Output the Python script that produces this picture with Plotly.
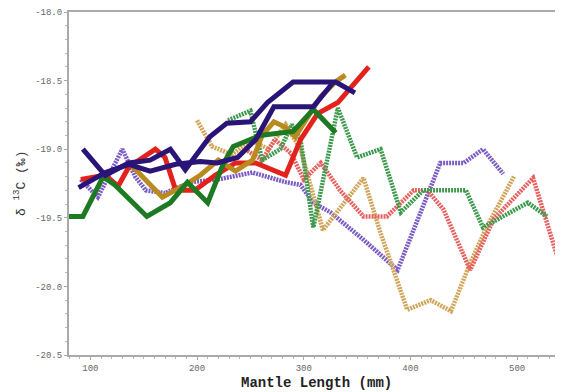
import plotly.graph_objects as go

# ---- data (mantle length mm, delta13C permil) ----
red_x = [91, 114, 126, 136, 161, 170, 180, 198, 217, 236, 255, 269, 283, 297, 313, 332, 361]
red_y = [-19.22, -19.19, -19.27, -19.13, -19.00, -19.06, -19.30, -19.30, -19.19, -19.10, -19.10, -19.15, -19.19, -18.93, -18.74, -18.66, -18.40]

gold_x = [137.5, 167.5, 189, 203, 220, 236, 252, 261, 272, 283, 292, 315.6, 329.7, 339]
gold_y = [-19.11, -19.35, -19.26, -19.19, -19.08, -19.16, -19.08, -18.90, -18.80, -18.84, -18.91, -18.62, -18.51, -18.46]

green_x = [80, 93, 112, 123, 153, 175, 191, 210, 225, 234, 259, 290, 309, 330]
green_y = [-19.49, -19.49, -19.20, -19.26, -19.49, -19.39, -19.24, -19.39, -19.10, -18.98, -18.90, -18.87, -18.71, -18.88]

purple1_x = [93, 114, 136, 156, 175, 189, 212, 228, 250, 266, 290, 330, 348]
purple1_y = [-19.00, -19.19, -19.10, -19.08, -19.00, -19.15, -18.91, -18.81, -18.80, -18.66, -18.51, -18.51, -18.59]

purple2_x = [89, 114, 136, 156, 180, 203, 219, 238, 255, 272, 309, 328]
purple2_y = [-19.28, -19.17, -19.11, -19.16, -19.11, -19.09, -19.10, -19.06, -18.93, -18.69, -18.69, -18.51]

greend_x = [229, 250, 261, 278, 289, 297, 309, 332, 350, 372, 391, 412, 452, 468, 510, 528]
greend_y = [-18.79, -18.72, -19.08, -19.00, -18.82, -18.93, -19.57, -18.70, -19.06, -19.00, -19.46, -19.30, -19.30, -19.57, -19.39, -19.49]

redd_x = [245, 261, 273, 288, 300, 316, 334, 356, 378, 403, 416, 431, 456, 478, 515, 538]
redd_y = [-19.00, -19.08, -18.93, -19.03, -19.22, -19.10, -19.30, -19.49, -19.49, -19.30, -19.30, -19.44, -19.88, -19.51, -19.21, -19.79]

goldd_x = [200, 214, 233, 250, 267, 283, 297, 318, 356, 372, 397, 419, 438, 456, 472, 497]
goldd_y = [-18.79, -18.98, -19.04, -18.93, -19.00, -18.82, -19.00, -19.59, -19.21, -19.61, -20.17, -20.10, -20.18, -19.83, -19.56, -19.20]

purpled_x = [91, 107, 130, 142, 152, 170, 194, 220, 252, 264, 283, 297, 309, 325, 356, 388, 428, 450, 468, 487]
purpled_y = [-19.22, -19.35, -19.00, -19.20, -19.30, -19.32, -19.24, -19.22, -19.17, -19.20, -19.24, -19.26, -19.39, -19.46, -19.66, -19.88, -19.10, -19.10, -19.00, -19.18]

x_ticks = [100, 200, 300, 400, 500]
y_ticks = [-18.0, -18.5, -19.0, -19.5, -20.0, -20.5]

fig = go.Figure()

dotted = [
    (purpled_x, purpled_y, "#7a5cc4"),
    (goldd_x, goldd_y, "#cfa65a"),
    (redd_x, redd_y, "#e8605e"),
    (greend_x, greend_y, "#3f9a4e"),
]
for xs, ys, c in dotted:
    fig.add_trace(go.Scatter(x=xs, y=ys, mode="lines",
                             line=dict(color=c, width=4.5, dash="2px,1px"),
                             showlegend=False, hoverinfo="skip"))

solid = [
    (red_x, red_y, "#e3221c"),
    (gold_x, gold_y, "#b98a1e"),
    (green_x, green_y, "#1e7a22"),
    (purple2_x, purple2_y, "#2b1478"),
    (purple1_x, purple1_y, "#2b1478"),
]
for xs, ys, c in solid:
    fig.add_trace(go.Scatter(x=xs, y=ys, mode="lines",
                             line=dict(color=c, width=5),
                             showlegend=False, hoverinfo="skip"))

tickfont = dict(family="Liberation Mono", size=9, color="#666666")

# page body has an 8px default margin, so the figure is 8px smaller than the window
fig.update_layout(
    width=555, height=384,
    margin=dict(l=61, r=0, t=4, b=37),
    plot_bgcolor="white", paper_bgcolor="white",
    xaxis=dict(range=[80, 543], tickvals=x_ticks, ticktext=[str(v) for v in x_ticks],
               showgrid=False, zeroline=False, showline=True, linecolor="#aaaaaa",
               linewidth=2, mirror=True, ticks="outside", ticklen=3, tickcolor="#aaaaaa",
               tickfont=tickfont,
               minor=dict(dtick=10, ticks="outside", ticklen=2, tickcolor="#bbbbbb")),
    yaxis=dict(range=[-20.5, -18.0], tickvals=y_ticks, ticktext=["%.1f" % v for v in y_ticks],
               showgrid=False, zeroline=False, showline=True, linecolor="#aaaaaa",
               linewidth=2, ticks="outside", ticklen=3, tickcolor="#aaaaaa",
               tickfont=tickfont,
               minor=dict(dtick=0.1, ticks="outside", ticklen=2, tickcolor="#bbbbbb")),
    annotations=[
        dict(text="<b>Mantle Length (mm)</b>", xref="paper", yref="paper", x=0.50, y=-0.082,
             xanchor="center", yanchor="middle", showarrow=False,
             font=dict(family="Liberation Mono", size=14, color="#222222")),
        dict(text="δ <sup>13</sup>C (‰)", xref="paper", yref="paper", x=-0.10, y=0.5,
             xanchor="center", yanchor="middle", textangle=-90, showarrow=False,
             font=dict(family="Liberation Mono", size=13, color="#333333")),
    ],
)

fig.write_html("out.html")
